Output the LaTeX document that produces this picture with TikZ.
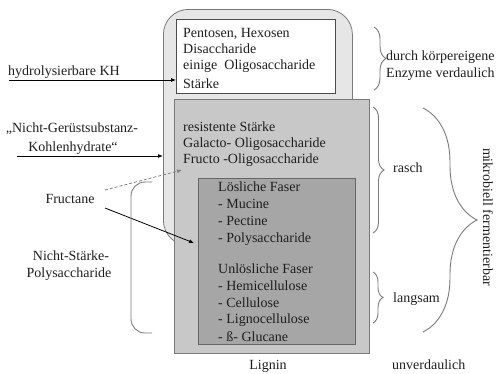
\documentclass[tikz,border=0pt]{standalone}
\usepackage{fontspec}
\setmainfont{Liberation Serif}
\usetikzlibrary{arrows.meta,decorations.pathreplacing}
\definecolor{outerfill}{HTML}{E6E6E6}
\definecolor{midfill}{HTML}{C8C8C8}
\definecolor{darkfill}{HTML}{A6A6A6}
\definecolor{edgegray}{HTML}{7A7A7A}
\definecolor{txt}{HTML}{1E1E1E}
\begin{document}
\begin{tikzpicture}[x=1pt,y=-1pt,
  lbl/.style={inner sep=0pt,anchor=base west,text=txt,font=\fontsize{14}{17}\selectfont},
  clbl/.style={lbl,anchor=base},
  box/.style={draw=edgegray,line width=0.8pt,anchor=north west,inner sep=0pt},
  arr/.style={draw=black,line width=0.8pt,-{Latex[length=5pt,width=4pt]}},
  darr/.style={draw=gray,line width=0.8pt,dashed,dash pattern=on 3pt off 2pt,-{Latex[length=5pt,width=4pt]}},
  brc/.style={draw=edgegray,line width=0.9pt,decorate},
]
\useasboundingbox (0,0) rectangle (497,373);
% boxes
\node[box,fill=outerfill,rounded corners=25pt,minimum width=189pt,minimum height=236pt] (outer) at (163,9) {};
\node[box,fill=white,draw=black!70,minimum width=159pt,minimum height=74pt] (white) at (176,19) {};
\node[box,fill=midfill,minimum width=195pt,minimum height=254pt] (mid) at (174,99) {};
\node[box,fill=darkfill,draw=black!60,minimum width=157pt,minimum height=166pt] (dark) at (198,178) {};
% white box text
\node[lbl] (t1) at (183,37) {Pentosen, Hexosen};
\node[lbl] (t2) at (183,53) {Disaccharide};
\node[lbl] (t3) at (183,69) {einige\ \ Oligosaccharide};
\node[lbl] (t4) at (183,88) {Stärke};
% mid box text
\node[lbl] (m1) at (183,131) {resistente Stärke};
\node[lbl] (m2) at (183,147) {Galacto- Oligosaccharide};
\node[lbl] (m3) at (183,163) {Fructo -Oligosaccharide};
% dark box text
\node[lbl] (d1) at (218,191) {Lösliche Faser};
\node[lbl] (d2) at (218,208) {- Mucine};
\node[lbl] (d3) at (218,225) {- Pectine};
\node[lbl] (d4) at (218,242) {- Polysaccharide};
\node[lbl] (d5) at (218,273) {Unlösliche Faser};
\node[lbl] (d6) at (218,290) {- Hemicellulose};
\node[lbl] (d7) at (218,307) {- Cellulose};
\node[lbl] (d8) at (218,323) {- Lignocellulose};
\node[lbl] (d9) at (218,341) {- ß- Glucane};
% left labels
\node[lbl] (hk) at (8,75) {hydrolysierbare KH};
\node[clbl] (ngs1) at (72,132) {„Nicht-Gerüstsubstanz-};
\node[clbl] (ngs2) at (73,151) {Kohlenhydrate“};
\node[clbl] (fru) at (70,203) {Fructane};
\node[clbl] (nsp1) at (71,260) {Nicht-Stärke-};
\node[clbl] (nsp2) at (69,277) {Polysaccharide};
% right labels
\node[lbl] (r1) at (386,60) {durch körpereigene};
\node[lbl] (r2) at (386,77) {Enzyme verdaulich};
\node[lbl] (rasch) at (393,172) {rasch};
\node[lbl] (langsam) at (393,302) {langsam};
\node[clbl] (lignin) at (268,369) {Lignin};
\node[lbl] (unv) at (392,369) {unverdaulich};
\node[inner sep=0pt,text=txt,font=\fontsize{14}{17}\selectfont,rotate=-90] (mik) at (488,217) {mikrobiell fermentierbar};
% arrows
\coordinate (hkS) at (9,80);
\draw[arr] (hkS) -- (hkS -| white.west);
\coordinate (ngsS) at (17,156);
\draw[arr] (ngsS) -- (ngsS -| outer.west);
\coordinate (fdS) at (105,190);
\coordinate (fdE) at (182,170);
\draw[darr] (fdS) -- (fdE);
\coordinate (fsS) at (105,208);
\coordinate (fsE) at (194,243);
\draw[arr] (fsS) -- (fsE);
% left bracket
\coordinate (lbA) at (152,182);
\coordinate (lbB) at (131,182);
\coordinate (lbC) at (131,333);
\coordinate (lbD) at (152,333);
\draw[draw=edgegray,line width=0.9pt,rounded corners=14pt] (lbA) -- (lbB) -- (lbC) -- (lbD);
% braces
\coordinate (b1a) at (374,27); \coordinate (b1b) at (374,90);
\draw[brc,decoration={brace,amplitude=12pt}] (b1a) -- (b1b);
\coordinate (b2a) at (373,107); \coordinate (b2b) at (373,233);
\draw[brc,decoration={brace,amplitude=11pt}] (b2a) -- (b2b);
\coordinate (b3a) at (373,272); \coordinate (b3b) at (373,323);
\draw[brc,decoration={brace,amplitude=10pt}] (b3a) -- (b3b);
\coordinate (b4a) at (423,108); \coordinate (b4b) at (423,332);
\draw[brc,decoration={brace,amplitude=54pt}] (b4a) -- (b4b);
\end{tikzpicture}
\end{document}
